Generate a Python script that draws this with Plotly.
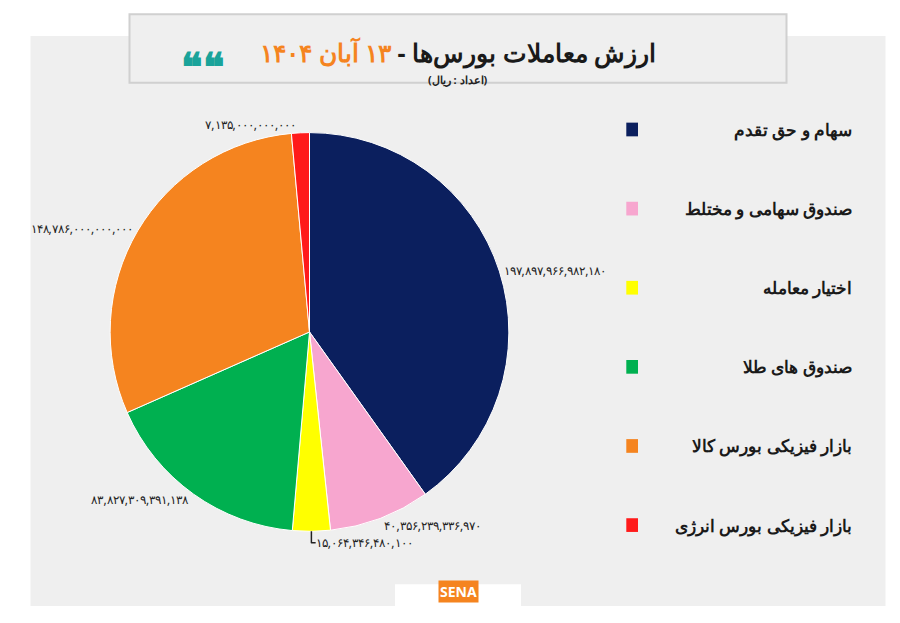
import plotly.graph_objects as go

labels = ["سهام و حق تقدم", "صندوق سهامی و مختلط", "اختیار معامله",
          "صندوق های طلا", "بازار فیزیکی بورس کالا", "بازار فیزیکی بورس انرژی"]
values = [197897966982180, 40356239336970, 15064346480100,
          83827309391138, 148786000000000, 7135000000000]
colors = ["#0b1f5e", "#f7a6cf", "#ffff00", "#00b050", "#f5841f", "#ff1a1a"]

fa = str.maketrans("0123456789", "۰۱۲۳۴۵۶۷۸۹")
value_text = [f"{v:,}".translate(fa) for v in values]

fig = go.Figure(go.Pie(
    labels=labels, values=values, sort=False, direction="clockwise", rotation=0,
    marker=dict(colors=colors, line=dict(color="white", width=1)),
    text=value_text, textinfo="text", textposition="outside", automargin=False,
    textfont=dict(family="Noto Sans", size=12, color="#222"),
    domain=dict(x=[0.07, 0.6], y=[0.16, 0.8]),
    showlegend=False, hoverinfo="label+value",
))

shapes = [
    # gray panel
    dict(type="rect", xref="paper", yref="paper", x0=0.025, x1=0.975, y0=0.04, y1=0.955,
         fillcolor="#efefef", line=dict(width=0), layer="below"),
    # title pill
    dict(type="rect", xref="paper", yref="paper", x0=0.135, x1=0.865, y0=0.88, y1=0.99,
         fillcolor="#efefef", line=dict(color="#d0d0d0", width=2), layer="below"),
    # logo box
    dict(type="rect", xref="paper", yref="paper", x0=0.43, x1=0.57, y0=0.0, y1=0.075,
         fillcolor="white", line=dict(width=0), layer="below"),
]
annotations = [
    dict(text="<b>ارزش معاملات بورس‌ها - <span style='color:#f5841f'>۱۳ آبان ۱۴۰۴</span></b>",
         x=0.5, y=0.96, xref="paper", yref="paper", showarrow=False,
         font=dict(family="Noto Sans", size=25, color="#1a1a1a")),
    dict(text="<b>(اعداد : ریال)</b>", x=0.5, y=0.9, xref="paper", yref="paper",
         showarrow=False, font=dict(family="Noto Sans", size=11, color="#222")),
    dict(text="<b>❝❝</b>", x=0.19, y=0.955, xref="paper", yref="paper", showarrow=False,
         font=dict(size=40, color="#1aa39a")),
    dict(text="<b>SENA</b>", x=0.5, y=0.045, xref="paper", yref="paper", showarrow=False,
         font=dict(family="Noto Sans", size=14, color="white"), bgcolor="#f5841f"),
]
for i, (lab, col) in enumerate(zip(labels, colors)):
    y = 0.805 - i * 0.127
    annotations.append(dict(text=f"<b>{lab}</b>", x=0.94, y=y, xref="paper", yref="paper",
                            xanchor="right", yanchor="middle", showarrow=False,
                            font=dict(family="Noto Sans", size=17, color="#1a1a1a")))
    shapes.append(dict(type="rect", xref="paper", yref="paper",
                       x0=0.687, x1=0.7, y0=y - 0.011, y1=y + 0.011,
                       fillcolor=col, line=dict(width=0)))

fig.update_layout(width=900, height=623, paper_bgcolor="white", plot_bgcolor="white",
                  margin=dict(l=0, r=0, t=0, b=0, autoexpand=False),
                  shapes=shapes, annotations=annotations)
fig.write_html("out.html")
